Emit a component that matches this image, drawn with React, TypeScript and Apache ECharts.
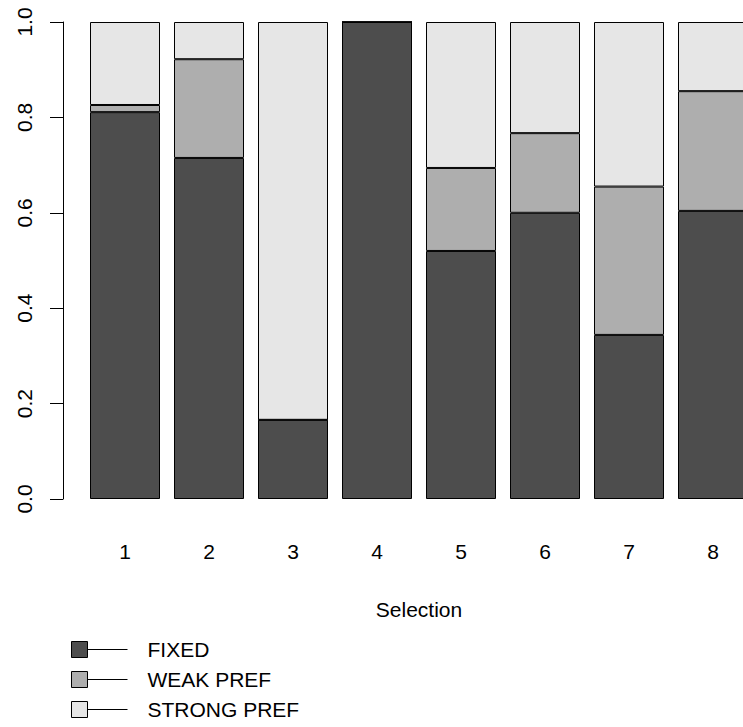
import React, { useEffect, useRef } from "react";
import * as echarts from "echarts";

const categories = ["1", "2", "3", "4", "5", "6", "7", "8"];
const fixedValues = [0.811, 0.715, 0.166, 1.0, 0.52, 0.6, 0.344, 0.604];
const weakValues = [0.015, 0.207, 0, 0, 0.174, 0.167, 0.311, 0.251];
const strongValues = [0.174, 0.078, 0.834, 0, 0.306, 0.233, 0.345, 0.145];
const yTicks = [0, 0.2, 0.4, 0.6, 0.8, 1.0];

const FONT = "'Liberation Sans', Arial, sans-serif";

export default function App() {
  const ref = useRef<HTMLDivElement>(null);
  useEffect(() => {
    if (!ref.current) return;
    const chart = echarts.init(ref.current, undefined, { renderer: "svg" });
    const mk = (name: string, data: number[], color: string) => ({
      name,
      type: "bar",
      stack: "total",
      data,
      barWidth: 70,
      itemStyle: { color, borderColor: "#000", borderWidth: 1 },
      emphasis: { disabled: true },
    });
    chart.setOption({
      animation: false,
      textStyle: { fontFamily: FONT },
      grid: { left: 83, width: 672, top: 22, height: 477, outerBoundsMode: "none" },
      xAxis: {
        type: "category",
        data: categories,
        axisLine: { show: false },
        axisTick: { show: false },
        axisLabel: { fontSize: 21, color: "#000", margin: 42, fontFamily: FONT },
        name: "Selection",
        nameLocation: "middle",
        nameGap: 100,
        nameTextStyle: { fontSize: 21, color: "#000", fontFamily: FONT },
      },
      yAxis: {
        type: "value",
        min: yTicks[0],
        max: yTicks[yTicks.length - 1],
        interval: 0.2,
        offset: 20,
        splitLine: { show: false },
        axisLine: { show: true, lineStyle: { color: "#000", width: 1 } },
        axisTick: { show: true, length: 13, lineStyle: { color: "#000", width: 1 } },
        axisLabel: {
          fontSize: 21,
          color: "#000",
          rotate: 90,
          margin: 28,
          fontFamily: FONT,
          formatter: (v: number) => v.toFixed(1),
        },
      },
      legend: {
        orient: "vertical",
        left: 71,
        top: 639,
        height: 88,
        padding: 0,
        itemWidth: 56,
        itemHeight: 16,
        itemGap: 9,
        icon: "path://M0,0H16V16H0Z M16,8H56",
        itemStyle: { borderColor: "#000", borderWidth: 1 },
        textStyle: {
          fontSize: 21,
          color: "#000",
          fontFamily: FONT,
          padding: [0, 0, 0, 15],
        },
        selectedMode: false,
        data: ["FIXED", "WEAK PREF", "STRONG PREF"],
      },
      series: [
        mk("FIXED", fixedValues, "#4D4D4D"),
        mk("WEAK PREF", weakValues, "#AEAEAE"),
        mk("STRONG PREF", strongValues, "#E6E6E6"),
      ],
    });
    return () => chart.dispose();
  }, []);
  return (
    <div
      ref={ref}
      style={{ position: "absolute", left: 0, top: 0, width: 743, height: 727, background: "#fff" }}
    />
  );
}
